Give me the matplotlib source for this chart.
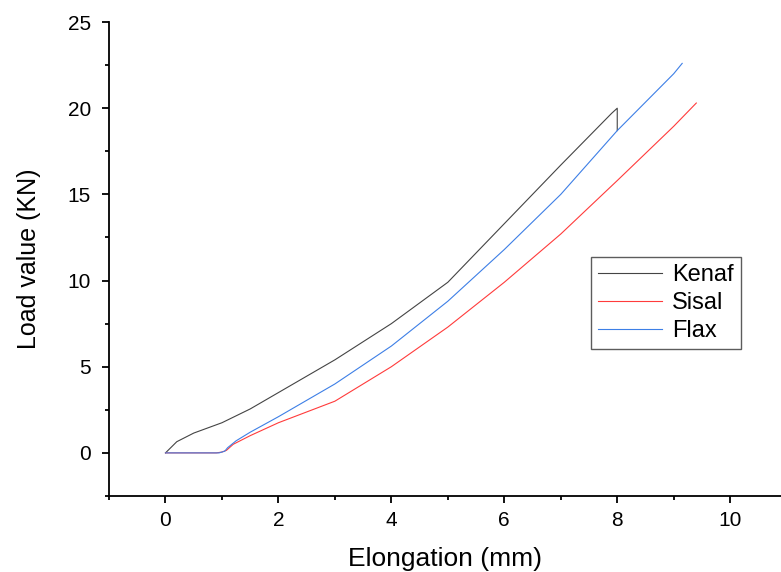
import numpy as np
import matplotlib.pyplot as plt
from matplotlib.ticker import MultipleLocator

plt.rcParams['font.family'] = ['Liberation Sans', 'DejaVu Sans']

kenaf_x = [0, 0.2, 0.5, 1.0, 1.5, 2, 3, 4, 4.5, 5.0, 5.5, 6, 7, 7.9, 8.0, 8.0]
kenaf_y = [0, 0.65, 1.15, 1.75, 2.55, 3.5, 5.4, 7.5, 8.7, 9.9, 11.6, 13.3, 16.7, 19.7, 20.0, 18.7]

sisal_x = [0, 0.9, 1.0, 1.08, 1.2, 1.5, 2, 3, 4, 5, 6, 7, 8, 9, 9.4]
sisal_y = [0, 0, 0.05, 0.15, 0.5, 1.0, 1.75, 3.0, 5.0, 7.3, 9.9, 12.7, 15.8, 18.95, 20.3]

flax_x = [0, 0.95, 1.05, 1.1, 1.25, 1.5, 2, 3, 4, 5, 6, 7, 8, 9, 9.15]
flax_y = [0, 0, 0.1, 0.3, 0.7, 1.2, 2.1, 4.0, 6.2, 8.8, 11.8, 15.0, 18.7, 22.0, 22.6]

fig = plt.figure(figsize=(7.81, 5.72), dpi=100)
ax = fig.add_axes([0.1396, 0.1329, 0.8604, 0.8286])

ax.plot(kenaf_x, kenaf_y, color='#444444', lw=0.8, label='Kenaf')
ax.plot(sisal_x, sisal_y, color='#ff3b3b', lw=0.8, label='Sisal')
ax.plot(flax_x, flax_y, color='#3d7fe6', lw=0.8, label='Flax')

ax.set_xlim(-1, 10.9)
ax.set_ylim(-2.5, 25)
ax.xaxis.set_major_locator(MultipleLocator(2))
ax.xaxis.set_minor_locator(MultipleLocator(1))
ax.yaxis.set_major_locator(MultipleLocator(5))
ax.yaxis.set_minor_locator(MultipleLocator(2.5))
ax.spines['top'].set_visible(False)
ax.spines['right'].set_visible(False)
for s in ['left', 'bottom']:
    ax.spines[s].set_linewidth(1.3)
ax.tick_params(which='major', direction='out', length=5, width=1.3, labelsize=15)
ax.tick_params(which='minor', direction='out', length=3, width=1.3)
ax.tick_params(axis='x', pad=6)
ax.tick_params(axis='y', pad=8)

ax.set_xlabel('Elongation (mm)', fontsize=19, labelpad=12)
ax.set_ylabel('Load value (KN)', fontsize=18, labelpad=19)

leg = ax.legend(loc='upper left', bbox_to_anchor=(0.717, 0.504), borderaxespad=0,
                fontsize=17, frameon=True, fancybox=False, handlelength=2.7,
                borderpad=0.3, labelspacing=0.25, handletextpad=0.45)
leg.get_frame().set_edgecolor('#333333')
leg.get_frame().set_linewidth(1.0)

plt.savefig('out.png', dpi=100)
